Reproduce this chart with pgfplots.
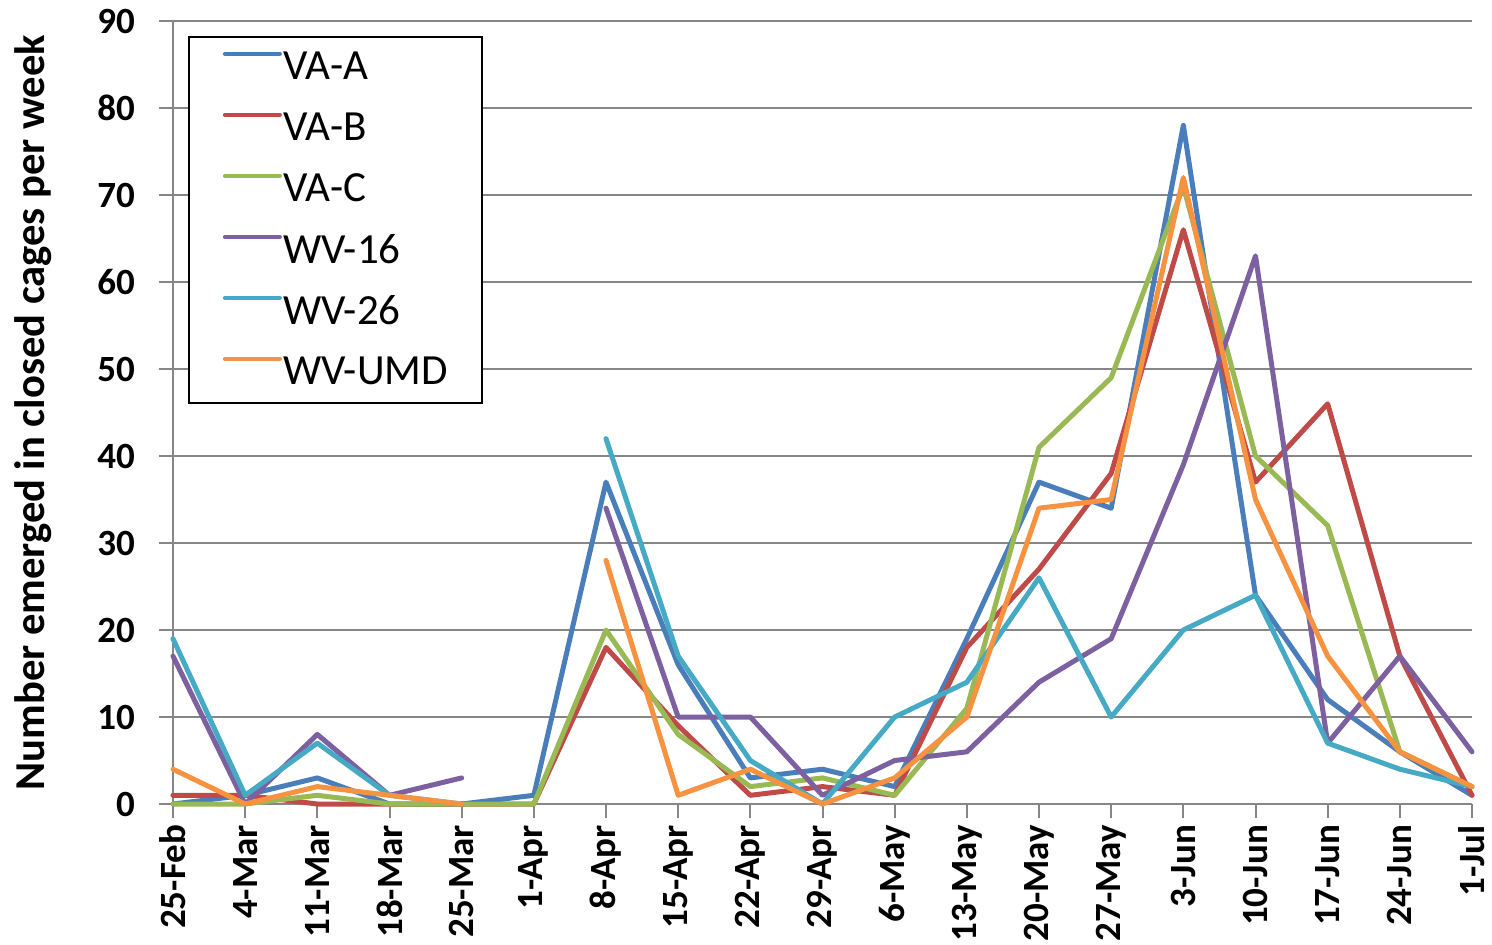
\documentclass[border=0pt]{standalone}
\usepackage{fontspec}
\setmainfont{Carlito}
\usepackage{pgfplots}
\pgfplotsset{compat=1.18}
\definecolor{cA}{RGB}{74,126,187}
\definecolor{cB}{RGB}{190,75,72}
\definecolor{cC}{RGB}{152,185,84}
\definecolor{cD}{RGB}{125,96,160}
\definecolor{cE}{RGB}{70,170,197}
\definecolor{cF}{RGB}{246,146,64}
\definecolor{gridgray}{RGB}{134,134,134}
\pgfplotstableread{
x VAA VAB VAC WV16 WV26 WVUMD
0 0 1 0 17 19 4
1 1 1 0 0 1 0
2 3 0 1 8 7 2
3 0 0 0 1 1 1
4 0 0 0 3 0 0
5 1 0 0 nan nan nan
6 37 18 20 34 42 28
7 16 9 8 10 17 1
8 3 1 2 10 5 4
9 4 2 3 1 0 0
10 2 1 1 5 10 3
11 19 18 11 6 14 10
12 37 27 41 14 26 34
13 34 38 49 19 10 35
14 78 66 71 39 20 72
15 24 37 40 63 24 35
16 12 46 32 7 7 17
17 6 17 6 17 4 6
18 1 1 2 6 2 2
}\data
\begin{document}
\begin{tikzpicture}
\begin{axis}[
  at={(0,0)}, anchor=south west,
  scale only axis, width=649.5pt, height=391.5pt,
  xmin=0, xmax=18, ymin=0, ymax=90,
  axis x line=bottom, axis y line=left,
  axis line style={-, draw=gridgray, line width=1pt},
  xtick={0,...,18},
  xticklabels={25-Feb,4-Mar,11-Mar,18-Mar,25-Mar,1-Apr,8-Apr,15-Apr,22-Apr,29-Apr,6-May,13-May,20-May,27-May,3-Jun,10-Jun,17-Jun,24-Jun,1-Jul},
  ytick={0,10,...,90},
  ymajorgrids, grid style={gridgray, line width=1pt},
  tick align=outside, major tick length=7pt,
  tick style={gridgray, line width=1pt},
  /pgf/number format/assume math mode=true,
  x tick label style={rotate=90, anchor=east, font=\fontsize{18.5}{20}\selectfont\bfseries},
  y tick label style={font=\fontsize{18.5}{20}\selectfont\bfseries, xshift=-8.5pt},
  ylabel={Number emerged in closed cages per week},
  ylabel style={at={(rel axis cs:-0.088,0.5)}, anchor=south, font=\fontsize{21.3}{24}\selectfont\bfseries},
  unbounded coords=jump,
  clip=false,
  every axis plot/.append style={line width=2.5pt, line join=round, line cap=round},
  legend style={at={(rel axis cs:0.01155,0.98084)}, anchor=north west, draw=black, line width=0.9pt, fill=white,
    inner xsep=17pt, inner ysep=0pt, row sep=0pt,
    font=\fontsize{21.5}{24}\selectfont,
    nodes={inner sep=0pt, minimum height=30.5pt}},
  legend cell align=left,
  legend image code/.code={\draw[#1, line width=2pt] (0pt,6.8pt) -- (27.5pt,6.8pt); \path (28pt,6.8pt);},
]
\addplot[cA] table[x=x,y=VAA]{\data};
\addplot[cB] table[x=x,y=VAB]{\data};
\addplot[cC] table[x=x,y=VAC]{\data};
\addplot[cD] table[x=x,y=WV16]{\data};
\addplot[cE] table[x=x,y=WV26]{\data};
\addplot[cF] table[x=x,y=WVUMD]{\data};
\legend{VA-A,VA-B,VA-C,WV-16,WV-26,WV-UMD}
\end{axis}
\pgfresetboundingbox
\path (-86.5pt,-70pt) rectangle (659.5pt,402pt);
\end{tikzpicture}
\end{document}
